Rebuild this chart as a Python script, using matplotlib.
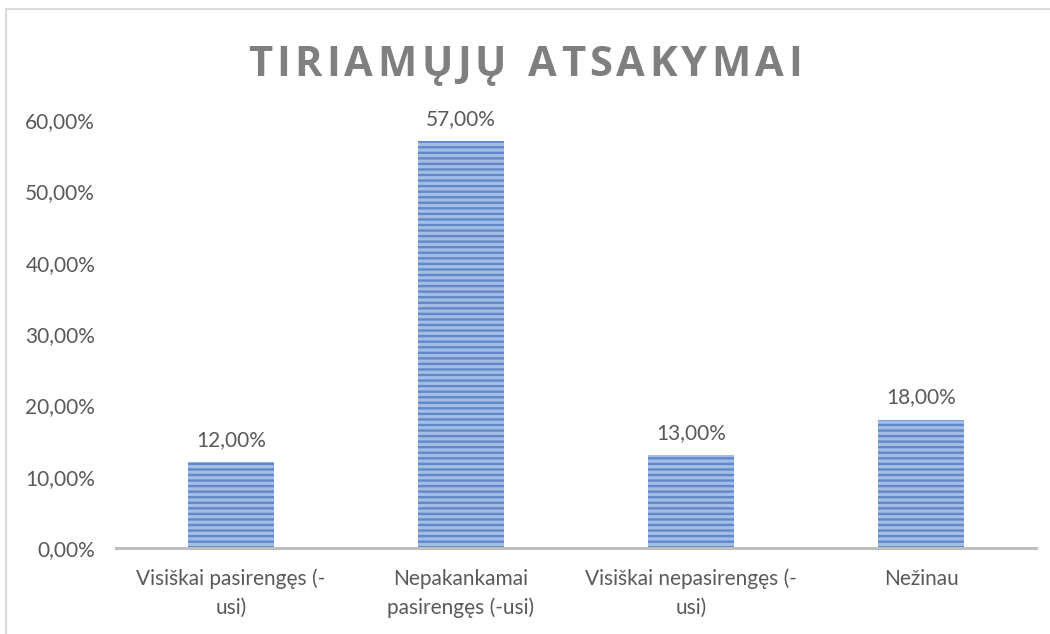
import matplotlib
matplotlib.use("Agg")
import matplotlib.pyplot as plt
from matplotlib.patches import Rectangle
from matplotlib.ticker import FuncFormatter

categories = ["Visiškai pasirengęs (-\nusi)", "Nepakankamai\npasirengęs (-usi)",
              "Visiškai nepasirengęs (-\nusi)", "Nežinau"]
values = [0.12, 0.57, 0.13, 0.18]
yticks = [0.0, 0.1, 0.2, 0.3, 0.4, 0.5, 0.6]
title = "TIRIAMŲJŲ ATSAKYMAI"

FONT = ["Lato", "DejaVu Sans"]
TXT = "#595959"
plt.rcParams["font.family"] = FONT
plt.rcParams["hatch.linewidth"] = 1.7

def pct(v):
    return f"{v*100:.2f}%".replace(".", ",")

fig = plt.figure(figsize=(10.5, 6.34), dpi=100)
W, H = 1050, 634

# chart border
fig.patches.append(Rectangle((5.5 / W, -0.1), 2.0, (H - 9) / H + 0.1,
                             transform=fig.transFigure, fill=False,
                             edgecolor="#d9d9d9", lw=1.5))

ax = fig.add_axes([116 / W, 86 / H, 920 / W, 428 / H])
x = list(range(len(values)))
ax.bar(x, values, width=0.378, facecolor="#a3bde6", edgecolor="#6189c8",
       linewidth=0, hatch="---")
ax.set_xlim(-0.5, len(values) - 0.5)
ax.set_ylim(0, 0.6)
ax.set_yticks(yticks)
ax.yaxis.set_major_formatter(FuncFormatter(lambda v, p: pct(v)))
ax.set_xticks(x)
ax.set_xticklabels(categories, fontsize=15, color=TXT, linespacing=1.5)
ax.tick_params(axis="x", length=0, pad=15)
ax.tick_params(axis="y", length=0, pad=15, labelsize=15, labelcolor=TXT)
for s in ["top", "right", "left"]:
    ax.spines[s].set_visible(False)
ax.spines["bottom"].set_color("#bfbfbf")
ax.spines["bottom"].set_linewidth(2.2)

for xi, v in zip(x, values):
    ax.annotate(pct(v), (xi, v), xytext=(0, 9), textcoords="offset points",
                ha="center", va="bottom", fontsize=15, color=TXT)

# letter-spaced title
fig.canvas.draw()
r = fig.canvas.get_renderer()
fs = 30
spacing = 4.3
TF = ["Open Sans", "DejaVu Sans"]
widths = []
for ch in title:
    t = fig.text(0, 0, ch if ch != " " else "A", fontsize=fs, fontweight="bold", family=TF)
    bb = t.get_window_extent(r)
    widths.append(bb.width * (0.45 if ch == " " else 1.0))
    t.remove()
total = sum(widths) + spacing * (len(title) - 1)
xs = 525 - total / 2
for ch, w in zip(title, widths):
    if ch != " ":
        fig.text(xs / W, (H - 65) / H, ch, fontsize=fs, fontweight="bold", family=TF,
                 color="#7f7f7f", ha="left", va="center")
    xs += w + spacing

fig.savefig("out.png", dpi=100)
